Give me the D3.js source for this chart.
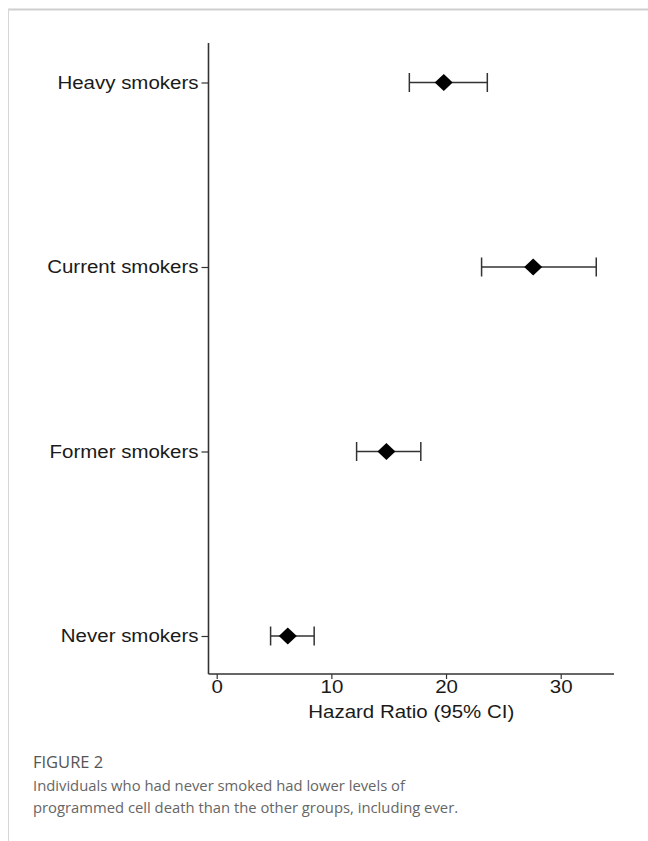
<!DOCTYPE html>
<html><head><meta charset="utf-8">
<script src="https://cdn.jsdelivr.net/npm/d3@7"></script>
<style>body{margin:0;background:#fff;} svg{display:block;}</style>
</head><body>
<script>
const categories = ["Heavy smokers", "Current smokers", "Former smokers", "Never smokers"];
const hr    = [19.8, 27.6, 14.8, 6.2];
const lower = [16.8, 23.1, 12.2, 4.7];
const upper = [23.6, 33.1, 17.8, 8.5];
const xTicks = [0, 10, 20, 30];
const captionTitle = "FIGURE 2";
const captionLines = ["Individuals who had never smoked had lower levels of",
                      "programmed cell death than the other groups, including ever."];

const W = 648, H = 841;
const svg = d3.select("body").append("svg").attr("width", W).attr("height", H);

// card border
svg.append("line").attr("x1", 8).attr("x2", W).attr("y1", 9.5).attr("y2", 9.5).attr("stroke", "#cfcfcf").attr("stroke-width", 2);
svg.append("line").attr("x1", 8.5).attr("x2", 8.5).attr("y1", 9).attr("y2", H).attr("stroke", "#d6d6d6").attr("stroke-width", 1);

const x = d3.scaleLinear().domain([0, 30]).range([216.7, 560.7]);
const y = d3.scalePoint().domain(categories).range([82.5, 636]);
const axisX = 208.5, axisY = 674, topY = 43, rightX = 614;
const font = "'Liberation Sans', Arial, sans-serif";
const ink = "#333";
const stretch = 1.17;
function widen(sel) {
  sel.each(function () {
    const w = this.getComputedTextLength();
    d3.select(this).attr("textLength", w * stretch).attr("lengthAdjust", "spacingAndGlyphs");
  });
}

const g = svg.append("g");
// y axis
const yAxis = g.append("g").attr("transform", `translate(${axisX},0)`)
  .call(d3.axisLeft(y).tickSize(7).tickPadding(3));
yAxis.select(".domain").remove();
g.append("line").attr("x1", axisX).attr("x2", axisX).attr("y1", topY).attr("y2", axisY).attr("stroke", ink).attr("stroke-width", 1.6);
yAxis.selectAll(".tick line").attr("stroke", ink).attr("stroke-width", 1.2);
yAxis.selectAll(".tick text").attr("font-family", font).attr("font-size", 17.5).attr("fill", "#1a1a1a").call(widen);

// x axis
const xAxis = g.append("g").attr("transform", `translate(0,${axisY})`)
  .call(d3.axisBottom(x).tickValues(xTicks).tickSize(5).tickPadding(2).tickFormat(d3.format("d")));
xAxis.select(".domain").remove();
g.append("line").attr("x1", axisX).attr("x2", rightX).attr("y1", axisY).attr("y2", axisY).attr("stroke", ink).attr("stroke-width", 1.6);
xAxis.selectAll(".tick line").attr("stroke", ink).attr("stroke-width", 1.2);
xAxis.selectAll(".tick text").attr("font-family", font).attr("font-size", 17.5).attr("fill", "#1a1a1a").call(widen);

g.append("text").attr("x", (axisX + rightX) / 2).attr("y", 718).attr("text-anchor", "middle")
  .attr("font-family", font).attr("font-size", 17.5).attr("fill", "#1a1a1a").text("Hazard Ratio (95% CI)").call(widen);

// error bars
const rows = categories.map((c, i) => ({c, hr: hr[i], lo: lower[i], hi: upper[i]}));
const eb = g.append("g").selectAll("g").data(rows).join("g");
eb.append("line").attr("x1", d => x(d.lo)).attr("x2", d => x(d.hi)).attr("y1", d => y(d.c)).attr("y2", d => y(d.c))
  .attr("stroke", ink).attr("stroke-width", 1.5);
eb.append("line").attr("x1", d => x(d.lo)).attr("x2", d => x(d.lo)).attr("y1", d => y(d.c) - 9.5).attr("y2", d => y(d.c) + 9.5)
  .attr("stroke", ink).attr("stroke-width", 1.5);
eb.append("line").attr("x1", d => x(d.hi)).attr("x2", d => x(d.hi)).attr("y1", d => y(d.c) - 9.5).attr("y2", d => y(d.c) + 9.5)
  .attr("stroke", ink).attr("stroke-width", 1.5);
eb.append("path").attr("transform", d => `translate(${x(d.hr)},${y(d.c)})`)
  .attr("d", "M0,-8.5L9,0L0,8.5L-9,0Z").attr("fill", "#000");

// caption
const cf = "'Open Sans', 'Noto Sans', sans-serif";
svg.append("text").attr("x", 33).attr("y", 768).attr("font-family", cf).attr("font-size", 16.5).attr("fill", "#555").text(captionTitle);
captionLines.forEach((t, i) => {
  svg.append("text").attr("x", 33).attr("y", 790.5 + i * 22).attr("font-family", cf).attr("font-size", 14.8).attr("fill", "#666").text(t);
});
</script>
</body></html>
